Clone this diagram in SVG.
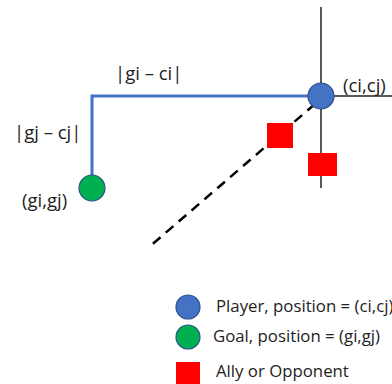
<svg xmlns="http://www.w3.org/2000/svg" width="392" height="384" viewBox="0 0 392 384">
<style>
text{font-family:"Open Sans","Liberation Sans",sans-serif;font-size:16.8px;fill:#222}
text.lbl{font-size:18.5px}
.axis{stroke:#222;stroke-width:1.5;fill:none}
.path{stroke:#4472C4;stroke-width:3;fill:none}
.player{fill:#4472C4;stroke:#2F528F;stroke-width:1.2}
.goal{fill:#00B050;stroke:#2F528F;stroke-width:1.2}
.agent{fill:#FF0000}
.dash{stroke:#000;stroke-width:2.5;stroke-dasharray:10,7;fill:none}
</style>
<rect width="392" height="384" fill="#fff"/>
<g id="connectors">
<line class="axis" x1="321" y1="7" x2="321" y2="188"/>
<line class="axis" x1="321" y1="96" x2="392" y2="96"/>
<path class="path" d="M321,96 H92 V178"/>
<line class="dash" x1="315" y1="104" x2="148" y2="248"/>
</g>
<g id="player"><circle class="player" cx="321" cy="96" r="13"/><text class="lbl" x="343" y="92">(ci,cj)</text></g>
<g id="goal"><circle class="goal" cx="92" cy="188" r="13"/><text class="lbl" x="22" y="207">(gi,gj)</text></g>
<g id="agent1"><rect class="agent" x="267" y="123" width="26" height="25"/></g>
<g id="agent2"><rect class="agent" x="308" y="153" width="29" height="23"/></g>
<g id="label-di"><text class="lbl" x="115" y="80">|gi – ci|</text></g>
<g id="label-dj"><text class="lbl" x="14" y="139">|gj – cj|</text></g>
<g id="legend">
<circle class="player" cx="188" cy="307" r="12"/><text x="216" y="312">Player, position = (ci,cj)</text>
<circle class="goal" cx="188" cy="337" r="12"/><text x="213" y="342">Goal, position = (gi,gj)</text>
<rect class="agent" x="176" y="362" width="24" height="22"/><text x="216" y="377">Ally or Opponent</text>
</g>
</svg>
